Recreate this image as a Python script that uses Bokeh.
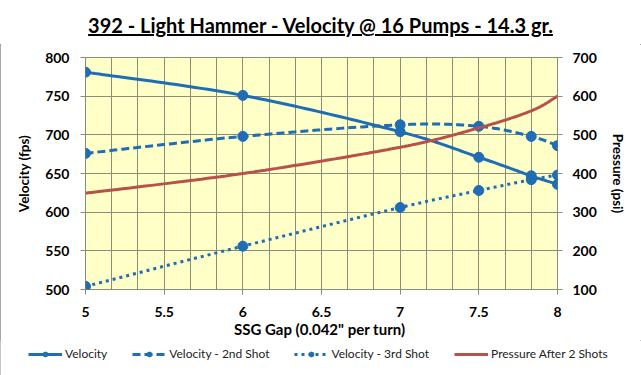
import numpy as np
from bokeh.plotting import figure
from bokeh.layouts import column
from bokeh.models import (Range1d, LinearAxis, FixedTicker, Legend, LegendItem, Div)
from bokeh.embed import file_html
from bokeh.resources import INLINE

# ---------------- data ----------------
ssg_gap = [5, 6, 7, 7.5, 7.833, 8]
velocity = [781, 751, 704, 671, 647, 636]
velocity_2nd = [676, 698, 713, 711, 698, 686]
velocity_3rd = [504, 556, 606, 628, 642, 648]
pressure = [349, 400, 468, 518, 562, 600]

x_ticks = [5, 5.5, 6, 6.5, 7, 7.5, 8]
vel_ticks = [500, 550, 600, 650, 700, 750, 800]
psi_ticks = [100, 200, 300, 400, 500, 600, 700]

title_text = "392 - Light Hammer - Velocity @ 16 Pumps - 14.3 gr."
x_label = 'SSG Gap (0.042"  per turn)'
y_label = "Velocity (fps)"
y2_label = "Pressure (psi)"
names = ["Velocity", "Velocity - 2nd Shot", "Velocity - 3rd Shot", "Pressure After 2 Shots"]


def smooth(xs, ys, n=30):
    """Excel-like smoothed line (Catmull-Rom / Bezier through the points)."""
    P = np.column_stack([xs, ys]).astype(float)
    out = []
    for i in range(len(P) - 1):
        p0 = P[i - 1] if i > 0 else P[i]
        p1, p2 = P[i], P[i + 1]
        p3 = P[i + 2] if i + 2 < len(P) else P[i + 1]
        c1 = p1 + (p2 - p0) / 6.0
        c2 = p2 - (p3 - p1) / 6.0
        t = np.linspace(0, 1, n)[:, None]
        seg = ((1 - t) ** 3) * p1 + 3 * ((1 - t) ** 2) * t * c1 + 3 * (1 - t) * t ** 2 * c2 + t ** 3 * p2
        out.append(seg if i == 0 else seg[1:])
    a = np.vstack(out)
    return a[:, 0], a[:, 1]


FONT = "Lato"
BLUE = "#1F6DB4"
RED = "#B8514A"
GRID = "#8C8C7A"

W = 641
TITLE_H = 44
MAIN_H = 296
LEG_H = 375 - TITLE_H - MAIN_H

title = Div(text="<u>" + title_text + "</u>", width=W, height=TITLE_H,
            styles={"font-family": FONT, "font-weight": "bold", "font-size": "20px",
                    "text-align": "center", "line-height": "22px", "padding-top": "14px",
                    "box-sizing": "border-box", "color": "black", "background": "white",
                    "margin": "0"})

p = figure(width=W, height=MAIN_H, output_backend="svg", toolbar_location=None,
           x_range=Range1d(5, 8), y_range=Range1d(500, 800),
           min_border_left=85, min_border_right=W - 85 - 472,
           min_border_top=13, min_border_bottom=MAIN_H - 13 - 232)
p.frame_align = False
p.extra_y_ranges = {"psi": Range1d(100, 700)}

p.background_fill_color = "#FFFFC8"
p.border_fill_color = "white"
p.outline_line_color = GRID

# grids
p.xgrid.ticker = FixedTicker(ticks=[5 + i / 6 for i in range(19)])
p.ygrid.ticker = FixedTicker(ticks=vel_ticks)
for g in (p.xgrid, p.ygrid):
    g.grid_line_color = GRID
    g.grid_line_width = 1

# axes
xax = p.xaxis[0]
yax = p.yaxis[0]
xax.ticker = FixedTicker(ticks=x_ticks)
yax.ticker = FixedTicker(ticks=vel_ticks)
xax.axis_label = x_label
yax.axis_label = y_label
ax2 = LinearAxis(y_range_name="psi", ticker=FixedTicker(ticks=psi_ticks), axis_label=y2_label)
p.add_layout(ax2, "right")

for ax in (xax, yax, ax2):
    ax.axis_line_color = None
    ax.major_tick_line_color = GRID
    ax.major_tick_out = 5
    ax.major_tick_in = 0
    ax.minor_tick_line_color = None
    ax.major_label_text_font = FONT
    ax.major_label_text_font_style = "bold"
    ax.major_label_text_font_size = "14px"
    ax.major_label_text_color = "black"
    ax.axis_label_text_font = FONT
    ax.axis_label_text_font_style = "bold"
    ax.axis_label_text_font_size = "13.5px"
    ax.axis_label_text_color = "black"
xax.axis_label_text_font_size = "15px"
xax.major_label_standoff = 12
xax.axis_label_standoff = 0
yax.major_label_standoff = 11
yax.axis_label_standoff = 10
ax2.major_label_standoff = 10
ax2.axis_label_standoff = 10


def draw_series(fig):
    out = []
    sx, sy = smooth(ssg_gap, velocity)
    out.append([fig.line(sx, sy, line_color=BLUE, line_width=3),
                fig.scatter(ssg_gap, velocity, size=10, color=BLUE)])
    sx, sy = smooth(ssg_gap, velocity_2nd)
    out.append([fig.line(sx, sy, line_color=BLUE, line_width=3, line_dash="8 4"),
                fig.scatter(ssg_gap, velocity_2nd, size=10, color=BLUE)])
    sx, sy = smooth(ssg_gap, velocity_3rd)
    out.append([fig.line(sx, sy, line_color=BLUE, line_width=3, line_dash="3 4"),
                fig.scatter(ssg_gap, velocity_3rd, size=10, color=BLUE)])
    sx, sy = smooth(ssg_gap, pressure)
    out.append([fig.line(sx, sy, line_color=RED, line_width=3,
                         y_range_name="psi" if "psi" in fig.extra_y_ranges else "default")])
    return out


draw_series(p)

# legend strip (same series, drawn out of view; only the legend shows)
lf = figure(width=W, height=LEG_H, output_backend="svg", toolbar_location=None,
            x_axis_type=None, y_axis_type=None,
            x_range=Range1d(100, 101), y_range=Range1d(100, 101),
            min_border=0, min_border_left=0, min_border_right=0,
            min_border_top=0, min_border_bottom=0)
lf.frame_align = False
lf.outline_line_color = None
lf.background_fill_color = "white"
lf.border_fill_color = "white"
lf.xgrid.visible = False
lf.ygrid.visible = False
lr = draw_series(lf)

legend = Legend(items=[LegendItem(label=names[i], renderers=lr[i]) for i in range(4)],
                orientation="horizontal", location=(28, LEG_H - 13 - 8),
                label_text_font=FONT, label_text_font_size="12px",
                label_text_color="#222222",
                glyph_width=34, glyph_height=12, label_standoff=3, spacing=25,
                padding=2, margin=0, border_line_color=None,
                background_fill_alpha=0)
lf.add_layout(legend)

layout = column(title, p, lf, spacing=0,
                styles={"outline": "1px solid #8C8C8C", "outline-offset": "-1px"})

open("out.html", "w").write(file_html(layout, INLINE))
